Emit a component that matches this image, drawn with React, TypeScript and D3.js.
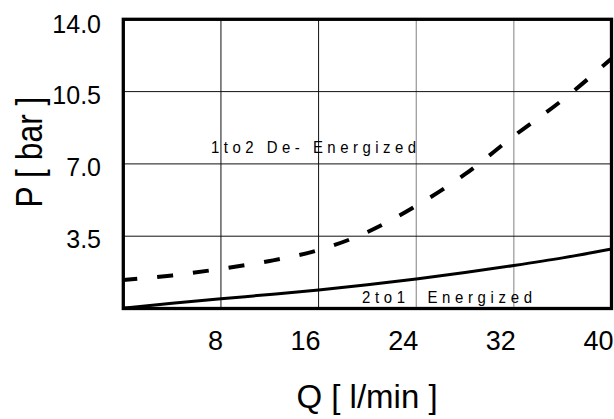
import React from "react";
import * as d3 from "d3";

const flowQ = [0, 4, 8, 12, 16, 20, 24, 28, 32, 36, 40];
const deEnergized = [1.38, 1.6, 1.92, 2.3, 2.83, 3.7, 4.97, 6.5, 8.35, 10.1, 12.1];
const energized = [0.02, 0.25, 0.47, 0.68, 0.9, 1.15, 1.43, 1.74, 2.08, 2.45, 2.88];
const xTicks = [8, 16, 24, 32, 40];
const yTicks = [3.5, 7.0, 10.5, 14.0];
const xTitle = "Q [ l/min ]";
const yTitle = "P [ bar ]";
const label1 = "1to2 De- Energized";
const label2 = "2to1\u00a0\u00a0Energized";

const W = 614;
const H = 419;
const L = 123.3, R = 611.5, T = 19.3, B = 308.5;

export default function App() {
  const x = d3.scaleLinear().domain([0, 40]).range([L, R]);
  const y = d3.scaleLinear().domain([0, 14]).range([B, T]);
  const line = d3
    .line<number>()
    .x((_, i) => x(flowQ[i]))
    .y((d) => y(d))
    .curve(d3.curveMonotoneX);
  const font = "'Liberation Sans', Arimo, Arial, sans-serif";
  return (
    <svg
      width={W}
      height={H}
      style={{ position: "absolute", left: 0, top: 0, background: "#fff" }}
      fontFamily={font}
    >
      <rect x={0} y={0} width={W} height={H} fill="#fff" />
      {xTicks.slice(0, -1).map((t) => (
        <line
          key={"vx" + t}
          x1={x(t)}
          x2={x(t)}
          y1={T}
          y2={B}
          stroke={t >= 24 ? "#808080" : "#111"}
          strokeWidth={1}
        />
      ))}
      {yTicks.slice(0, -1).map((t) => (
        <line key={"hy" + t} x1={L} x2={R} y1={y(t)} y2={y(t)} stroke="#111" strokeWidth={1} />
      ))}
      <path
        d={line(deEnergized) || ""}
        fill="none"
        stroke="#000"
        strokeWidth={4}
        strokeDasharray="16 20"
        strokeDashoffset={2}
      />
      <path d={line(energized) || ""} fill="none" stroke="#000" strokeWidth={3} />
      <rect
        x={L}
        y={T}
        width={R - L}
        height={B - T}
        fill="none"
        stroke="#000"
        strokeWidth={3.3}
      />
      {yTicks.map((t) => (
        <text
          key={"yl" + t}
          x={101}
          y={t === 14 ? 33 : y(t) + 12}
          textAnchor="end"
          fontSize={25}
          fill="#000"
        >
          {t.toFixed(1)}
        </text>
      ))}
      {xTicks.map((t) => (
        <text key={"xl" + t} x={x(t) + 2} y={350} textAnchor="end" fontSize={27} fill="#000">
          {t}
        </text>
      ))}
      <text x={367} y={408} textAnchor="middle" fontSize={33} fill="#000">
        {xTitle}
      </text>
      <text
        transform={`translate(41.5, 152) rotate(-90) scale(0.86, 1)`}
        textAnchor="middle"
        fontSize={37}
        fill="#000"
      >
        {yTitle}
      </text>
      <g transform="translate(211, 153) scale(0.88, 1)">
        <text x={0} y={0} fontSize={17} letterSpacing={5.1} fill="#000">
          {label1}
        </text>
      </g>
      <g transform="translate(362, 302.5) scale(0.88, 1)">
        <text x={0} y={0} fontSize={17} letterSpacing={5.3} fill="#000">
          {label2}
        </text>
      </g>
    </svg>
  );
}
